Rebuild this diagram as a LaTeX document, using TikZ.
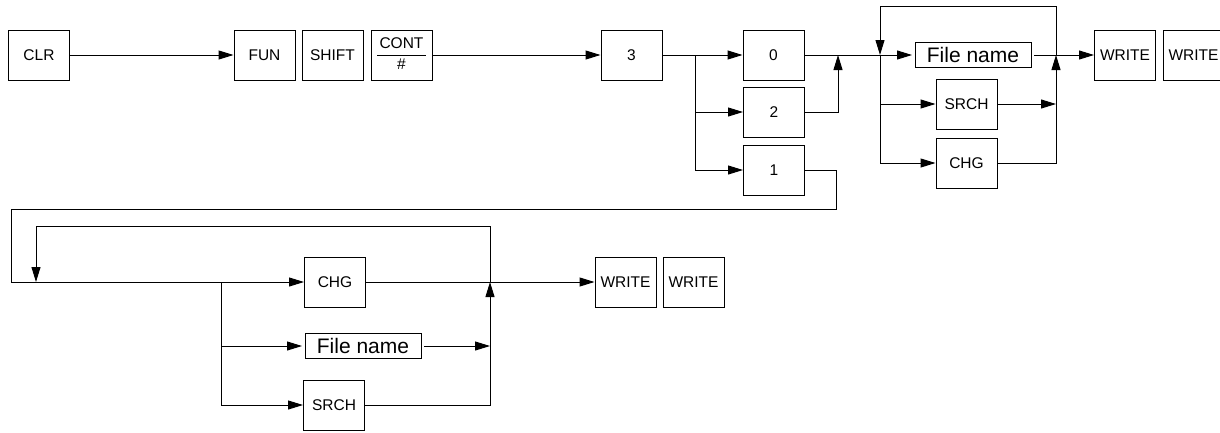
\documentclass[tikz,border=0pt]{standalone}
\usepackage{fontspec}
\setmainfont{Liberation Sans}
\usetikzlibrary{arrows.meta}

\tikzset{
  key/.style={draw, line width=1pt, minimum width=61pt, minimum height=50pt, inner sep=0pt,
    font=\fontsize{15.5}{18.6}\selectfont},
  fname/.style={draw, line width=1pt, minimum width=116pt, minimum height=25pt, inner sep=0pt,
    outer xsep=3pt, font=\fontsize{21}{25}\selectfont},
  wire/.style={line width=1pt},
  arr/.style={line width=1pt, -{Triangle[length=15pt,width=9pt]}}
}

\begin{document}
\begin{tikzpicture}[x=1pt,y=-1pt]
\useasboundingbox (0,0) rectangle (1220,432);

\node[key] (clr) at (39,55) {CLR};
\node[key] (fun) at (264.5,55) {FUN};
\node[key] (shift) at (332.5,55) {SHIFT};
\node[key] (cont) at (401.5,55) {\setlength{\tabcolsep}{2.5pt}\renewcommand{\arraystretch}{1.1}\begin{tabular}{c}CONT\\\hline\#\end{tabular}};
\node[key] (three) at (631.5,55) {3};
\node[key] (zero) at (773.5,55) {0};
\node[key] (two) at (774,112) {2};
\node[key] (one) at (774,170) {1};
\node[fname] (fnA) at (973,55) {File name};
\node[key] (srchA) at (966.5,104) {SRCH};
\node[key] (chgA) at (966.5,163) {CHG};
\node[key] (writeA1) at (1125,55) {WRITE};
\node[key] (writeA2) at (1193.5,55) {WRITE};

\node[key] (chgB) at (335,282) {CHG};
\node[fname] (fnB) at (363,346) {File name};
\node[key] (srchB) at (334,405) {SRCH};
\node[key] (writeB1) at (625.5,282) {WRITE};
\node[key] (writeB2) at (693.5,282) {WRITE};

\coordinate (jA) at (695,55);
\coordinate (jB) at (838,55);
\coordinate (jC) at (880,55);
\coordinate (jD) at (1056,55);
\coordinate (jE) at (221,282);
\coordinate (jF) at (490,282);

\draw[arr] (clr) -- (fun);
\draw[arr] (cont) -- (three);
\draw[arr] (three) -- (zero);
\draw[arr] (jA) |- (two);
\draw[arr] (jA) |- (one);
\draw[arr] (two.east) -| (jB);
\draw[arr] (zero) -- (fnA);
\draw[arr] (jD) -- (1056,6) -- (880,6) -- (jC);
\draw[arr] (jC) |- (srchA);
\draw[arr] (jC) |- (chgA);
\draw[arr] (srchA.east) -- (jD |- srchA.east);
\draw[arr] (chgA.east) -| (jD);
\draw[arr] (fnA) -- (writeA1);

\draw[arr] (one.east) -- (836,170) -- (836,209) -- (11,209) -- (11,282) -- (chgB);
\draw[arr] (jF) -- (490,226) -- (36,226) -- (36,282);
\draw[arr] (jE) |- (fnB);
\draw[arr] (jE) |- (srchB);
\draw[arr] (fnB.east) -- (jF |- fnB.east);
\draw[arr] (srchB.east) -| (jF);
\draw[arr] (chgB) -- (writeB1);
\end{tikzpicture}
\end{document}
